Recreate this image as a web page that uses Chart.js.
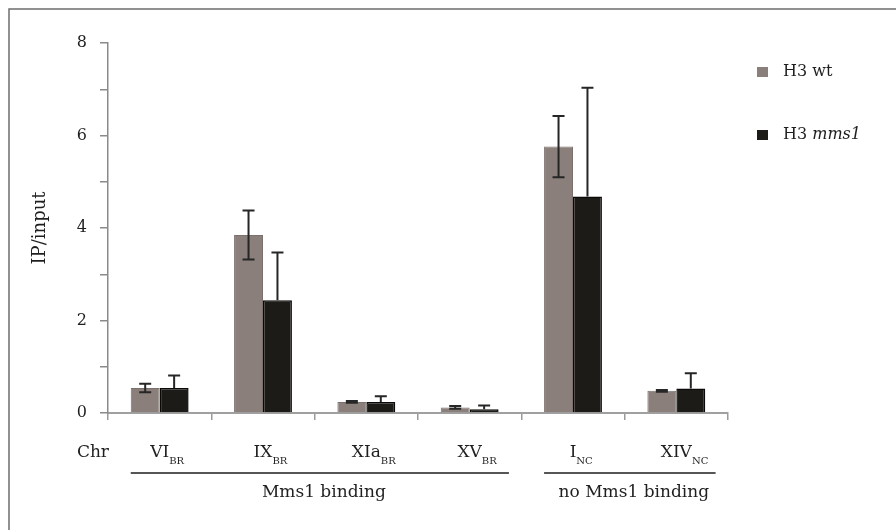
<!DOCTYPE html>
<html>
<head>
<meta charset="utf-8">
<script src="https://cdn.jsdelivr.net/npm/chart.js@4/dist/chart.umd.min.js"></script>
<style>
  html, body { margin: 0; padding: 0; background: #ffffff; overflow: hidden; }
  #wrap { width: 896px; height: 530px; position: relative; overflow: hidden; }
  #chart { display: block; }
</style>
</head>
<body>
<div id="wrap"><canvas id="chart" width="896" height="530"></canvas></div>
<script>
// Chromosome regions (main name + subscript tag)
const categories = ['VI', 'IX', 'XIa', 'XV', 'I', 'XIV'];
const categorySubs = ['BR', 'BR', 'BR', 'BR', 'NC', 'NC'];

// IP/input means and their error bars
const wtValues   = [0.54, 3.85, 0.24, 0.12, 5.76, 0.48];
const wtErrors   = [0.09, 0.53, 0.02, 0.03, 0.66, 0.02];
const mms1Values = [0.54, 2.44, 0.24, 0.08, 4.68, 0.53];
const mms1Errors = [0.27, 1.03, 0.12, 0.08, 2.35, 0.33];

// Y axis range and labelled ticks
const yMin = 0;
const yMax = 8;
const yLabelled = [0, 2, 4, 6, 8];

// Grouping brackets under the axis
const groupNames = ['Mms1 binding', 'no Mms1 binding'];
const groupFirst = [0, 4];
const groupLast  = [3, 5];

const SERIF = '"DejaVu Serif", "Liberation Serif", serif';
const TEXT = '#1f1f1f';
const GREY = '#8a7f7b';
const DARK = '#1d1b17';

// Whiskers: the lower half of a dark bar's whisker sits inside the bar,
// so only the upper whisker is drawn for that series.
const errorBars = {
  id: 'errorBars',
  afterDatasetsDraw(chart) {
    const ctx = chart.ctx;
    const y = chart.scales.y;
    const errs = [wtErrors, mms1Errors];
    const lowerShown = [true, false];
    ctx.save();
    ctx.strokeStyle = '#262626';
    ctx.lineWidth = 2;
    chart.data.datasets.forEach((ds, di) => {
      const meta = chart.getDatasetMeta(di);
      meta.data.forEach((bar, i) => {
        const v = ds.data[i], e = errs[di][i];
        const yv = y.getPixelForValue(v);
        const yt = y.getPixelForValue(v + e);
        const yb = y.getPixelForValue(Math.max(0, v - e));
        const cx = bar.x, cap = 6;
        ctx.beginPath();
        ctx.moveTo(cx, lowerShown[di] ? yb : yv); ctx.lineTo(cx, yt);
        ctx.moveTo(cx - cap, yt); ctx.lineTo(cx + cap, yt);
        if (lowerShown[di]) { ctx.moveTo(cx - cap, yb); ctx.lineTo(cx + cap, yb); }
        ctx.stroke();
      });
    });
    ctx.restore();
  }
};

const decorations = {
  id: 'decorations',
  beforeDraw(chart) {
    const ctx = chart.ctx;
    ctx.save();
    ctx.fillStyle = '#ffffff';
    ctx.fillRect(0, 0, chart.width, chart.height);
    // panel frame (top and left edges)
    ctx.strokeStyle = '#6e6e6e';
    ctx.lineWidth = 1.5;
    ctx.beginPath();
    ctx.moveTo(9, chart.height); ctx.lineTo(9, 9); ctx.lineTo(chart.width, 9);
    ctx.stroke();
    ctx.restore();
  },
  afterDraw(chart) {
    const ctx = chart.ctx;
    const x = chart.scales.x;
    const area = chart.chartArea;
    const base = area.bottom;
    ctx.save();
    ctx.fillStyle = TEXT;
    ctx.textBaseline = 'alphabetic';

    // y axis title
    ctx.save();
    ctx.translate(40, (area.top + area.bottom) / 2);
    ctx.rotate(-Math.PI / 2);
    ctx.textAlign = 'center';
    ctx.textBaseline = 'middle';
    ctx.font = '18px ' + SERIF;
    ctx.fillText('IP/input', 0, 0);
    ctx.restore();

    // "Chr" row header and region labels with subscripts
    ctx.font = '17px ' + SERIF;
    ctx.textAlign = 'right';
    ctx.fillText('Chr', area.left + 1, base + 44);
    categories.forEach((name, i) => {
      const cx = x.getPixelForValue(i);
      ctx.font = '17px ' + SERIF;
      const w = ctx.measureText(name).width;
      ctx.textAlign = 'left';
      ctx.fillText(name, cx - w / 2, base + 44);
      ctx.font = '10px ' + SERIF;
      ctx.fillText(categorySubs[i], cx + w / 2, base + 51);
    });

    // group brackets
    const catW = x.getPixelForValue(1) - x.getPixelForValue(0);
    ctx.strokeStyle = '#1e1e1e';
    ctx.lineWidth = 1.6;
    ctx.font = '17px ' + SERIF;
    ctx.textAlign = 'center';
    groupNames.forEach((g, k) => {
      const x0 = x.getPixelForValue(groupFirst[k]) - catW * 0.28;
      const x1 = x.getPixelForValue(groupLast[k]) + catW * 0.38;
      ctx.beginPath();
      ctx.moveTo(x0, base + 60); ctx.lineTo(x1, base + 60);
      ctx.stroke();
      ctx.fillText(g, (x0 + x1) / 2 + 4, base + 84);
    });

    // legend
    const lx = area.right + 29;
    const rows = [area.top + 29, area.top + 92];
    chart.data.datasets.forEach((ds, di) => {
      const ry = rows[di];
      ctx.fillStyle = ds.backgroundColor;
      ctx.fillRect(lx, ry - 5, 11, 10);
      ctx.fillStyle = TEXT;
      ctx.textAlign = 'left';
      ctx.textBaseline = 'middle';
      ctx.font = '16px ' + SERIF;
      const parts = ds.label.split(' ');
      const head = parts[0] + ' ';
      ctx.fillText(head, lx + 26, ry);
      const hw = ctx.measureText(head).width;
      ctx.font = (di === 1 ? 'italic ' : '') + '16px ' + SERIF;
      ctx.fillText(parts.slice(1).join(' '), lx + 26 + hw, ry);
    });
    ctx.restore();
  }
};

new Chart(document.getElementById('chart'), {
  type: 'bar',
  data: {
    labels: categories.map((c, i) => c + categorySubs[i]),
    datasets: [
      { label: 'H3 wt', data: wtValues, backgroundColor: GREY, borderColor: '#7a706c', borderWidth: 1 },
      { label: 'H3 mms1', data: mms1Values, backgroundColor: DARK, borderColor: '#0a0908', borderWidth: 1.5 }
    ]
  },
  options: {
    responsive: false,
    animation: false,
    devicePixelRatio: 1,
    layout: { padding: { left: 0, top: 43, right: 168, bottom: 0 } },
    datasets: { bar: { barPercentage: 1.0, categoryPercentage: 0.56 } },
    plugins: { legend: { display: false }, tooltip: { enabled: false } },
    scales: {
      x: {
        afterFit(s) { s.height = 117; },
        grid: { display: true, drawOnChartArea: false, drawTicks: true, tickLength: 7, color: '#9a9a9a', lineWidth: 1.5, offset: true },
        border: { display: true, color: '#a0a0a0', width: 2 },
        ticks: { callback: () => '', font: { size: 1 } }
      },
      y: {
        min: yMin,
        max: yMax,
        afterFit(s) { s.width = 108; },
        grid: { display: true, drawOnChartArea: false, drawTicks: true, tickLength: 8, color: '#8a8a8a', lineWidth: 1.5 },
        border: { display: true, color: '#8a8a8a', width: 1.5 },
        ticks: {
          stepSize: 1,
          padding: 13,
          color: TEXT,
          font: { family: SERIF, size: 16 },
          callback: (v) => yLabelled.includes(v) ? String(v) : ''
        }
      }
    }
  },
  plugins: [decorations, errorBars]
});
</script>
</body>
</html>
